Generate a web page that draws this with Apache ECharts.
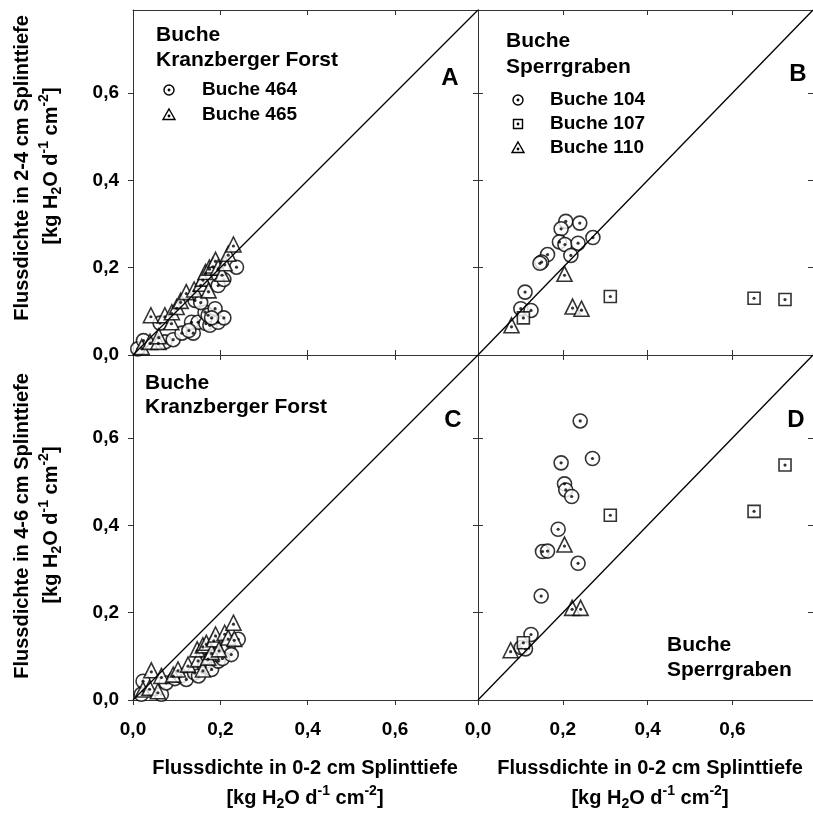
<!DOCTYPE html>
<html>
<head>
  <meta charset="UTF-8">
  <title>Flussdichte Buche</title>
  <script src="https://cdn.jsdelivr.net/npm/echarts@6/dist/echarts.min.js"></script>
  <style>
    html,body{margin:0;padding:0;background:#fff;}
    #main{width:813px;height:814px;}
  </style>
</head>
<body>
<div id="main"></div>
<script type="text/javascript">
  // Panel A: 2-4 cm vs 0-2 cm, Kranzberger Forst
  var a464 = [[0.011,0.014],[0.024,0.033],[0.062,0.073],[0.073,0.030],[0.092,0.035],[0.112,0.050],[0.138,0.050],[0.134,0.075],[0.149,0.075],[0.167,0.072],[0.176,0.068],[0.165,0.098],[0.172,0.091],[0.188,0.106],[0.195,0.075],[0.208,0.085],[0.142,0.125],[0.155,0.120],[0.195,0.159],[0.208,0.173],[0.237,0.201],[0.180,0.085],[0.128,0.056]];
  var a465 = [[0.020,0.018],[0.039,0.030],[0.058,0.030],[0.059,0.043],[0.041,0.091],[0.073,0.091],[0.088,0.075],[0.089,0.098],[0.100,0.110],[0.109,0.124],[0.122,0.144],[0.140,0.150],[0.155,0.163],[0.160,0.175],[0.166,0.190],[0.173,0.148],[0.175,0.200],[0.183,0.205],[0.189,0.218],[0.195,0.200],[0.204,0.186],[0.210,0.210],[0.218,0.232],[0.230,0.253]];
  // Panel B: 2-4 cm vs 0-2 cm, Sperrgraben
  var b104 = [[0.207,0.306],[0.240,0.302],[0.196,0.289],[0.192,0.259],[0.205,0.253],[0.236,0.256],[0.271,0.269],[0.219,0.228],[0.164,0.230],[0.150,0.213],[0.146,0.210],[0.111,0.144],[0.101,0.106],[0.125,0.102]];
  var b107 = [[0.107,0.085],[0.312,0.134],[0.651,0.130],[0.724,0.127]];
  var b110 = [[0.079,0.068],[0.204,0.186],[0.223,0.111],[0.244,0.106]];
  // Panel C: 4-6 cm vs 0-2 cm, Kranzberger Forst
  var c464 = [[0.019,0.013],[0.023,0.043],[0.065,0.013],[0.076,0.039],[0.096,0.049],[0.110,0.055],[0.122,0.047],[0.141,0.062],[0.150,0.055],[0.164,0.077],[0.170,0.090],[0.180,0.070],[0.195,0.089],[0.191,0.104],[0.205,0.095],[0.218,0.123],[0.225,0.104],[0.241,0.139]];
  var c465 = [[0.023,0.024],[0.038,0.028],[0.057,0.020],[0.042,0.068],[0.065,0.055],[0.092,0.058],[0.103,0.070],[0.126,0.081],[0.149,0.093],[0.160,0.070],[0.172,0.097],[0.147,0.116],[0.160,0.125],[0.168,0.131],[0.180,0.110],[0.185,0.139],[0.189,0.150],[0.197,0.116],[0.210,0.154],[0.218,0.143],[0.230,0.177],[0.232,0.140]];
  // Panel D: 4-6 cm vs 0-2 cm, Sperrgraben
  var d104 = [[0.241,0.639],[0.270,0.553],[0.196,0.543],[0.204,0.495],[0.207,0.481],[0.221,0.466],[0.189,0.391],[0.152,0.340],[0.164,0.341],[0.236,0.313],[0.149,0.238],[0.125,0.150],[0.102,0.120],[0.112,0.117]];
  var d107 = [[0.107,0.131],[0.312,0.423],[0.651,0.432],[0.724,0.538]];
  var d110 = [[0.077,0.114],[0.204,0.356],[0.222,0.211],[0.242,0.211]];

  var axisMax = 0.79;
  var oneToOne = [[0,0],[axisMax,axisMax]];
  var panelLetters = ['A','B','C','D'];

  var FONT = 'Arial, "Liberation Sans", sans-serif';
  var chart = echarts.init(document.getElementById('main'));

  var grids = [
    {left:133, top:10, width:345, height:345},
    {left:478, top:10, width:345, height:345},
    {left:133, top:355, width:345, height:345},
    {left:478, top:355, width:345, height:345}
  ];

  function fmt(v){ return v.toFixed(1).replace('.', ','); }

  var xAxes = [], yAxes = [];
  grids.forEach(function(g, i){
    var isLeft = (i % 2 === 0), isBottom = (i >= 2);
    var base = {
      type:'value', gridIndex:i, min:0, max:axisMax, interval:0.2,
      splitLine:{show:false},
      axisLine:{show:true, onZero:false, lineStyle:{color:'#333', width:1}},
      axisLabel:{show:false}
    };
    xAxes.push(Object.assign({}, base, {
      position:'bottom',
      axisTick:{inside:!isBottom, length:5, lineStyle:{color:'#333'}},
      axisLabel:{show:isBottom, formatter:fmt, showMaxLabel:false, margin:20,
        fontSize:19, fontWeight:'bold', color:'#000', fontFamily:FONT}
    }));
    xAxes.push(Object.assign({}, base, {
      position:'top',
      axisTick:{inside:true, length:5, lineStyle:{color:'#333'}}
    }));
    yAxes.push(Object.assign({}, base, {
      position:'left',
      axisTick:{inside:!isLeft, length:5, lineStyle:{color:'#333'}},
      axisLabel:{show:isLeft, formatter:fmt, showMaxLabel:false, margin:14,
        fontSize:19, fontWeight:'bold', color:'#000', fontFamily:FONT}
    }));
    yAxes.push(Object.assign({}, base, {
      position:'right',
      axisTick:{inside:true, length:5, lineStyle:{color:'#333'}}
    }));
  });

  var series = [];
  function addPoints(data, symbol, size, gi){
    series.push({
      type:'scatter', xAxisIndex:2*gi, yAxisIndex:2*gi, data:data,
      symbol:symbol, symbolSize:size, silent:true,
      itemStyle:{color:'#fff', borderColor:'#000', borderWidth:1.6}
    });
    series.push({
      type:'scatter', xAxisIndex:2*gi, yAxisIndex:2*gi, data:data,
      symbol:'circle', symbolSize:3.2, silent:true,
      symbolOffset: symbol === 'triangle' ? [0, 1.5] : [0, 0],
      itemStyle:{color:'#000'}
    });
  }
  grids.forEach(function(g, i){
    series.push({
      type:'line', xAxisIndex:2*i, yAxisIndex:2*i, data:oneToOne,
      symbol:'none', silent:true, lineStyle:{color:'#000', width:1.3}
    });
  });
  addPoints(a464, 'circle', 14, 0);
  addPoints(a465, 'triangle', 15, 0);
  addPoints(b104, 'circle', 14, 1);
  addPoints(b107, 'rect', 12, 1);
  addPoints(b110, 'triangle', 15, 1);
  addPoints(c464, 'circle', 14, 2);
  addPoints(c465, 'triangle', 15, 2);
  addPoints(d104, 'circle', 14, 3);
  addPoints(d107, 'rect', 12, 3);
  addPoints(d110, 'triangle', 15, 3);

  // texts and legend keys
  var richUnit = {
    n:{fontSize:20, fontWeight:'bold', fontFamily:FONT, color:'#000', lineHeight:27},
    sub:{fontSize:14, fontWeight:'bold', fontFamily:FONT, color:'#000', lineHeight:27, verticalAlign:'bottom'},
    sup:{fontSize:14, fontWeight:'bold', fontFamily:FONT, color:'#000', lineHeight:27, verticalAlign:'top'}
  };
  var unitText = '{n|[kg H}{sub|2}{n|O d}{sup|-1}{n| cm}{sup|-2}{n|]}';

  function txt(x, y, s, size, align){
    return {type:'text', x:x, y:y, silent:true,
      style:{text:s, fontSize:size, fontWeight:'bold', fontFamily:FONT, fill:'#000',
        align:align || 'left', verticalAlign:'middle'}};
  }
  function key(x, y, kind){
    var els = [];
    var st = {fill:'#fff', stroke:'#000', lineWidth:1.4};
    if(kind === 'circle') els.push({type:'circle', shape:{cx:x, cy:y, r:5}, style:st});
    if(kind === 'rect') els.push({type:'rect', shape:{x:x-4.5, y:y-4.5, width:9, height:9}, style:st});
    if(kind === 'triangle') els.push({type:'polygon', shape:{points:[[x,y-6],[x+6,y+4.5],[x-6,y+4.5]]}, style:st});
    els.push({type:'circle', shape:{cx:x, cy:kind === 'triangle' ? y+1 : y, r:1.4}, style:{fill:'#000'}});
    return els;
  }

  var graphic = [
    txt(156, 35, 'Buche', 21), txt(156, 60, 'Kranzberger Forst', 21),
    txt(450, 78, panelLetters[0], 24, 'center'),
    txt(202, 90, 'Buche 464', 19), txt(202, 115, 'Buche 465', 19),

    txt(506, 41, 'Buche', 21), txt(506, 67, 'Sperrgraben', 21),
    txt(798, 74, panelLetters[1], 24, 'center'),
    txt(550, 100, 'Buche 104', 19), txt(550, 124, 'Buche 107', 19), txt(550, 148, 'Buche 110', 19),

    txt(145, 383, 'Buche', 21), txt(145, 407, 'Kranzberger Forst', 21),
    txt(453, 420, panelLetters[2], 24, 'center'),

    txt(796, 420, panelLetters[3], 24, 'center'),
    txt(667, 645, 'Buche', 21), txt(667, 670, 'Sperrgraben', 21),

    // x axis titles
    txt(305, 768, 'Flussdichte in 0-2 cm Splinttiefe', 20, 'center'),
    {type:'text', x:305, y:798, silent:true, style:{text:unitText, rich:richUnit, align:'center', verticalAlign:'middle'}},
    txt(650, 768, 'Flussdichte in 0-2 cm Splinttiefe', 20, 'center'),
    {type:'text', x:650, y:798, silent:true, style:{text:unitText, rich:richUnit, align:'center', verticalAlign:'middle'}},

    // y axis titles
    {type:'text', x:22, y:168, rotation:Math.PI/2, silent:true,
      style:{text:'Flussdichte in 2-4 cm Splinttiefe', fontSize:20, fontWeight:'bold', fontFamily:FONT, fill:'#000', align:'center', verticalAlign:'middle'}},
    {type:'text', x:51, y:166, rotation:Math.PI/2, silent:true,
      style:{text:unitText, rich:richUnit, align:'center', verticalAlign:'middle'}},
    {type:'text', x:22, y:526, rotation:Math.PI/2, silent:true,
      style:{text:'Flussdichte in 4-6 cm Splinttiefe', fontSize:20, fontWeight:'bold', fontFamily:FONT, fill:'#000', align:'center', verticalAlign:'middle'}},
    {type:'text', x:51, y:525, rotation:Math.PI/2, silent:true,
      style:{text:unitText, rich:richUnit, align:'center', verticalAlign:'middle'}}
  ];
  graphic = graphic.concat(key(169, 90, 'circle'), key(169, 115, 'triangle'),
    key(518, 100, 'circle'), key(518, 124, 'rect'), key(518, 148, 'triangle'));

  chart.setOption({
    animation:false,
    backgroundColor:'#fff',
    grid:grids,
    xAxis:xAxes,
    yAxis:yAxes,
    series:series,
    graphic:graphic
  });
</script>
</body>
</html>
